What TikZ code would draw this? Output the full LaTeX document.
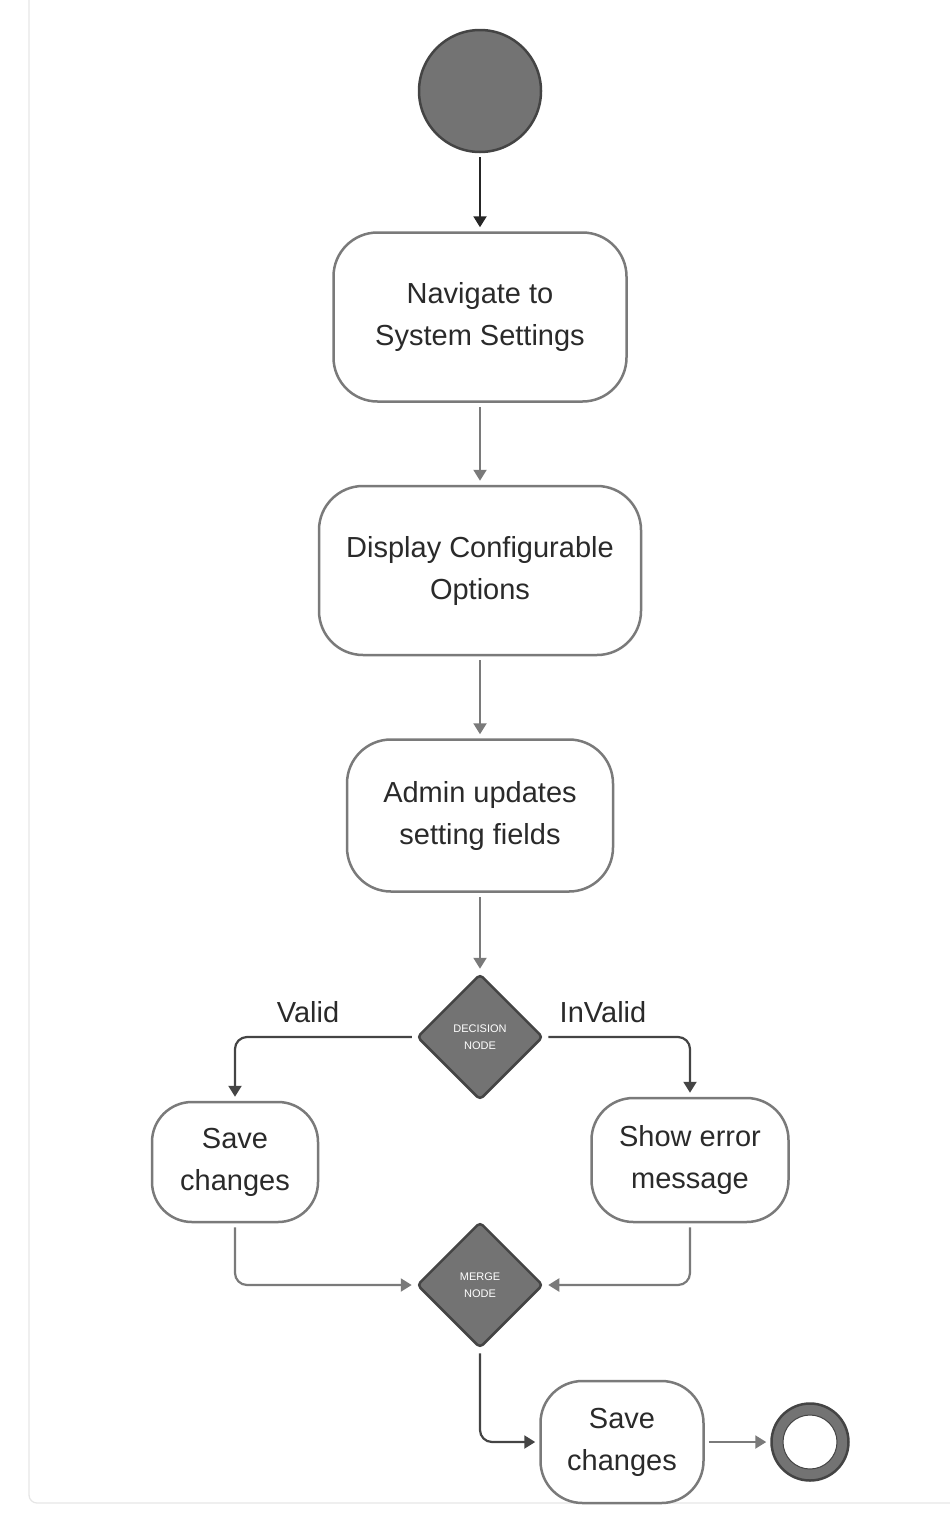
\documentclass[tikz,border=0pt]{standalone}
\usepackage{fontspec}
\setmainfont{Liberation Sans}
\usetikzlibrary{arrows.meta,positioning,shapes.geometric}
\definecolor{nodefill}{HTML}{737373}
\definecolor{darkline}{HTML}{444444}
\definecolor{boxline}{HTML}{7A7A7A}
\definecolor{textcol}{HTML}{2A2A2A}
\definecolor{framecol}{HTML}{E6E6E6}

\begin{document}
\begin{tikzpicture}[x=1pt,y=-1pt,>={Triangle[length=11pt,width=13pt]},
                    node distance=82pt,
                    font=\fontsize{29}{42}\selectfont, text=textcol]
  \tikzset{action/.style={draw=boxline,line width=2.5pt,fill=white,rounded corners=44pt,
                          align=center,inner sep=0pt},
           junction/.style={diamond,draw=darkline,line width=2.5pt,fill=nodefill,rounded corners=4pt,
                            minimum width=126pt,minimum height=126pt,inner sep=0pt,align=center,
                            text=white,font=\fontsize{11}{17}\selectfont},
           flow/.style={->,draw=boxline,line width=2.2pt,shorten >=4pt,shorten <=4pt,rounded corners=12pt},
           branch/.style={flow,draw=darkline}}
  \useasboundingbox (0,0) rectangle (950,1529);
  \draw[framecol,line width=1.3pt,rounded corners=8pt] (29,-20) rectangle (990,1503);

  \node[circle,draw=darkline,line width=2.5pt,fill=nodefill,minimum size=122pt] (start) at (480,91) {};
  \node[action,minimum width=293pt,minimum height=169pt] (nav) [below=78pt of start] {Navigate to\\System Settings};
  \node[action,minimum width=322pt,minimum height=169pt] (display) [below=of nav] {Display Configurable\\Options};
  \node[action,minimum width=266pt,minimum height=152pt] (admin) [below=of display] {Admin updates\\setting fields};
  \node[junction] (decision) [below=80pt of admin] {DECISION\\NODE};
  \node[action,minimum width=166pt,minimum height=120pt,rounded corners=40pt] (saveL) at (235,1162) {Save\\changes};
  \node[action,minimum width=197pt,minimum height=124pt,rounded corners=42pt] (error) at (690,1160) {Show error\\message};
  \node[junction] (merge) at (480,1285) {MERGE\\NODE};
  \node[action,minimum width=163pt,minimum height=122pt,rounded corners=42pt] (saveF) at (622,1442) {Save\\changes};
  \node[circle,draw=darkline,line width=2.5pt,fill=nodefill,minimum size=77pt] (end) at (810,1442) {};
  \node[circle,draw=darkline,line width=1pt,fill=white,minimum size=54pt] (endhole) at (end) {};

  \node (validlbl) at (308,1012) {Valid};
  \node (invalidlbl) at (603,1012) {InValid};

  \draw[branch,draw=black!85] (start) -- (nav);
  \draw[flow] (nav) -- (display);
  \draw[flow] (display) -- (admin);
  \draw[flow] (admin) -- (decision);
  \draw[branch] (decision.west) -| (saveL.north);
  \draw[branch] (decision.east) -| (error.north);
  \draw[flow] (saveL.south) |- (merge.west);
  \draw[flow] (error.south) |- (merge.east);
  \draw[branch] (merge.south) |- (saveF.west);
  \draw[flow] (saveF.east) -- (end.west);
\end{tikzpicture}
\end{document}
